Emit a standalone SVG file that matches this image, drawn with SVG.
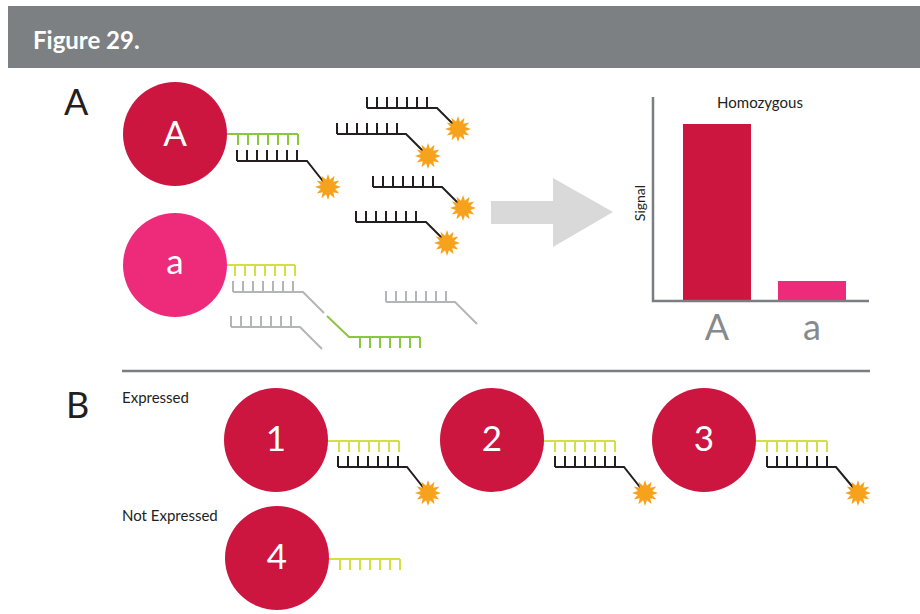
<svg xmlns="http://www.w3.org/2000/svg" xmlns:xlink="http://www.w3.org/1999/xlink" width="920" height="614" viewBox="0 0 920 614">
  <style>
    .lbl { font-family: Lato, "Liberation Sans", sans-serif; }
    .hdr { font-family: Lato, "Liberation Sans", sans-serif; font-weight: 700; font-size: 24px; fill: #ffffff; }
    .sec { font-family: Lato, "Liberation Sans", sans-serif; font-size: 36px; fill: #231f20; }
    .small { font-family: Lato, "Liberation Sans", sans-serif; font-size: 15px; fill: #231f20; }
    .inner { font-family: Lato, "Liberation Sans", sans-serif; font-size: 35px; fill: #ffffff; text-anchor: middle; }
    .axislbl { font-family: Lato, "Liberation Sans", sans-serif; font-size: 36px; fill: #868a8c; text-anchor: middle; }
    .red { fill: #cc153f; }
    .pink { fill: #ee2a7b; }
    .s { fill: none; stroke-width: 2; stroke-linejoin: miter; }
    .blk { stroke: #231f20; }
    .grn { stroke: #8cc63f; }
    .ylw { stroke: #d3df45; }
    .gry { stroke: #b3b5b8; }
    .axis { fill: none; stroke: #7a7e80; stroke-width: 2.5; }
    .star { fill: #f7a21c; }
  </style>
  <defs>
    <path id="teethDown" d="M0,0 v11 M10,0 v11 M20,0 v11 M30,0 v11 M40,0 v11 M50,0 v11 M60,0 v11"/>
    <path id="teethUp" d="M0,0 v-11 M10,0 v-11 M20,0 v-11 M30,0 v-11 M40,0 v-11 M50,0 v-11 M60,0 v-11"/>
    <!-- twelve-point burst, outer radius 13 -->
    <polygon id="burst" points="13,0 7.24,1.94 11.26,6.5 5.3,5.3 6.5,11.26 1.94,7.24 0,13 -1.94,7.24 -6.5,11.26 -5.3,5.3 -11.26,6.5 -7.24,1.94 -13,0 -7.24,-1.94 -11.26,-6.5 -5.3,-5.3 -6.5,-11.26 -1.94,-7.24 0,-13 1.94,-7.24 6.5,-11.26 5.3,-5.3 11.26,-6.5 7.24,-1.94"/>
  </defs>

  <!-- title bar -->
  <g id="header">
    <rect x="8" y="6" width="912" height="62" fill="#7c8083"/>
    <text class="hdr" x="33" y="49">Figure 29.</text>
  </g>

  <!-- section labels -->
  <text class="sec" x="64" y="115">A</text>
  <text class="sec" x="66" y="418">B</text>
  <text class="small" x="122" y="403">Expressed</text>
  <text class="small" x="122" y="521">Not Expressed</text>

  <!-- oligo strands and linkers -->
  <g id="connectors">
    <!-- allele A: bound capture + reporter -->
    <path class="s grn" d="M222,134 H298"/>
    <use href="#teethDown" xlink:href="#teethDown" x="238" y="134" class="s grn"/>
    <path class="s blk" d="M237,161 H307 L326,185"/>
    <use href="#teethUp" xlink:href="#teethUp" x="237" y="161" class="s blk"/>

    <!-- free reporters -->
    <path class="s blk" d="M367,108 H437 L456,127"/>
    <use href="#teethUp" xlink:href="#teethUp" x="367" y="108" class="s blk"/>
    <path class="s blk" d="M337,134 H406 L426,154"/>
    <use href="#teethUp" xlink:href="#teethUp" x="337" y="134" class="s blk"/>
    <path class="s blk" d="M373,187 H442 L461,206"/>
    <use href="#teethUp" xlink:href="#teethUp" x="373" y="187" class="s blk"/>
    <path class="s blk" d="M356,222 H426 L445,241"/>
    <use href="#teethUp" xlink:href="#teethUp" x="356" y="222" class="s blk"/>

    <!-- allele a: capture + non-matching strands -->
    <path class="s ylw" d="M222,265 H295"/>
    <use href="#teethDown" xlink:href="#teethDown" x="235" y="265" class="s ylw"/>
    <path class="s gry" d="M233,292 H303 L324,313"/>
    <use href="#teethUp" xlink:href="#teethUp" x="233" y="292" class="s gry"/>
    <path class="s grn" d="M327,316 L349,337 H420"/>
    <use href="#teethDown" xlink:href="#teethDown" x="360" y="337" class="s grn"/>
    <path class="s gry" d="M231,327 H300 L322,349"/>
    <use href="#teethUp" xlink:href="#teethUp" x="231" y="327" class="s gry"/>
    <path class="s gry" d="M386,302 H455 L477,324"/>
    <use href="#teethUp" xlink:href="#teethUp" x="386" y="302" class="s gry"/>

    <!-- section B strands -->
    <path class="s ylw" d="M322,441 H399"/>
    <use href="#teethDown" xlink:href="#teethDown" x="339" y="441" class="s ylw"/>
    <path class="s blk" d="M338,467 H407 L426,491"/>
    <use href="#teethUp" xlink:href="#teethUp" x="338" y="467" class="s blk"/>

    <path class="s ylw" d="M538,441 H615"/>
    <use href="#teethDown" xlink:href="#teethDown" x="555" y="441" class="s ylw"/>
    <path class="s blk" d="M555,467 H624 L643,491"/>
    <use href="#teethUp" xlink:href="#teethUp" x="555" y="467" class="s blk"/>

    <path class="s ylw" d="M750,441 H827"/>
    <use href="#teethDown" xlink:href="#teethDown" x="767" y="441" class="s ylw"/>
    <path class="s blk" d="M767,467 H836 L856,491"/>
    <use href="#teethUp" xlink:href="#teethUp" x="767" y="467" class="s blk"/>

    <path class="s ylw" d="M323,559 H400"/>
    <use href="#teethDown" xlink:href="#teethDown" x="340" y="559" class="s ylw"/>
  </g>

  <!-- fluorophores -->
  <g id="fluors">
    <use href="#burst" xlink:href="#burst" x="328" y="187" class="star"/>
    <use href="#burst" xlink:href="#burst" x="458" y="129" class="star"/>
    <use href="#burst" xlink:href="#burst" x="428" y="156" class="star"/>
    <use href="#burst" xlink:href="#burst" x="463" y="208" class="star"/>
    <use href="#burst" xlink:href="#burst" x="447" y="243" class="star"/>
    <use href="#burst" xlink:href="#burst" x="428" y="493" class="star"/>
    <use href="#burst" xlink:href="#burst" x="645" y="493" class="star"/>
    <use href="#burst" xlink:href="#burst" x="858" y="493" class="star"/>
  </g>

  <!-- beads -->
  <g id="bead-A">
    <circle class="red" cx="175" cy="134" r="52"/>
    <text class="inner" x="175" y="146">A</text>
  </g>
  <g id="bead-a">
    <circle class="pink" cx="175" cy="265" r="52"/>
    <text class="inner" x="175" y="274">a</text>
  </g>
  <g id="bead-1">
    <circle class="red" cx="276" cy="440" r="52"/>
    <text class="inner" x="276" y="451">1</text>
  </g>
  <g id="bead-2">
    <circle class="red" cx="492" cy="440" r="52"/>
    <text class="inner" x="492" y="451">2</text>
  </g>
  <g id="bead-3">
    <circle class="red" cx="704" cy="440" r="52"/>
    <text class="inner" x="704" y="451">3</text>
  </g>
  <g id="bead-4">
    <circle class="red" cx="277" cy="558" r="52"/>
    <text class="inner" x="277" y="569">4</text>
  </g>

  <!-- process arrow -->
  <g id="arrow">
    <polygon points="491,201 553,201 553,178 613,212 553,247 553,224 491,224" fill="#d9d9d9"/>
  </g>

  <!-- signal chart -->
  <g id="chart">
    <rect class="red" x="683" y="124" width="68" height="177"/>
    <rect class="pink" x="778" y="281" width="68" height="20"/>
    <path class="axis" d="M653,97 V301 H869"/>
    <text class="lbl" x="760" y="108" font-size="15" fill="#231f20" text-anchor="middle">Homozygous</text>
    <text class="lbl" transform="translate(645,203) rotate(-90)" font-size="14" fill="#231f20" text-anchor="middle">Signal</text>
    <text class="axislbl" x="717" y="340">A</text>
    <text class="axislbl" x="812" y="340">a</text>
  </g>

  <!-- divider -->
  <line x1="122" y1="371" x2="870" y2="371" stroke="#7a7e80" stroke-width="2.5"/>
</svg>
